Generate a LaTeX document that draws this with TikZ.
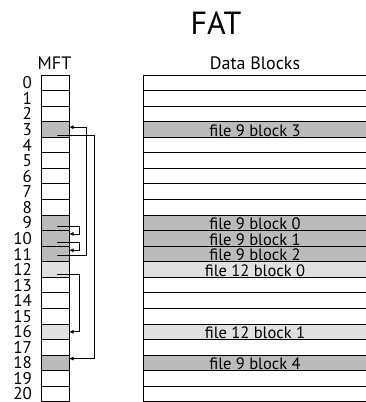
\documentclass[tikz,border=0pt]{standalone}
\usepackage{fontspec}
\setmainfont{PT Sans}
\usetikzlibrary{arrows.meta}
\definecolor{filenine}{RGB}{187,187,187}
\definecolor{filetwelve}{RGB}{224,224,224}

\begin{document}
\begin{tikzpicture}[x=1pt, y=1pt,
cell/.style={draw, line width=0.9pt, minimum width=28pt, minimum height=15.56pt, inner sep=0pt, outer sep=0pt},
blk/.style={draw, line width=0.9pt, minimum width=224pt, minimum height=15.56pt, inner sep=0pt, outer sep=0pt, text height=14pt, text depth=0pt, font=\fontsize{16.5}{16.5}\selectfont},
num/.style={anchor=east, inner sep=0pt, font=\fontsize{17}{17}\selectfont},
head/.style={inner sep=0pt, font=\fontsize{18}{18}\selectfont},
ptr/.style={-{Latex[length=4.5pt,width=4pt]}, line width=0.8pt}
]
\useasboundingbox (0,0) rectangle (366,-402);
\node[inner sep=0pt, font=\fontsize{32}{32}\selectfont] (title) at (216,-23.5) {FAT};
\node[head] (mft) at (54.5,-63) {MFT};
\node[head] (data) at (255,-63.3) {Data Blocks};

% table rows: number / fill / contents
\foreach \i/\c/\t in {0/white/{}, 1/white/{}, 2/white/{}, 3/filenine/{file 9 block 3},
  4/white/{}, 5/white/{}, 6/white/{}, 7/white/{}, 8/white/{},
  9/filenine/{file 9 block 0}, 10/filenine/{file 9 block 1}, 11/filenine/{file 9 block 2},
  12/filetwelve/{file 12 block 0}, 13/white/{}, 14/white/{}, 15/white/{},
  16/filetwelve/{file 12 block 1}, 17/white/{}, 18/filenine/{file 9 block 4},
  19/white/{}, 20/white/{}}{
  \node[cell, fill=\c] (m\i) at (55,{-82.8-15.56*\i}) {};
  \node[num] (n\i) at (32,{-82.8-15.56*\i}) {\i};
  \node[blk, fill=\c] (d\i) at (255,{-82.8-15.56*\i}) {\t};
}

% FAT chains
\draw[ptr] ([xshift=2pt,yshift=-6pt]m3.center) -| ([xshift=25pt,yshift=4.3pt]m18.east) -- ([yshift=4.3pt]m18.east);
\draw[ptr] ([xshift=2pt,yshift=-1.6pt]m11.center) -| ([xshift=17pt,yshift=2.3pt]m3.east) -- ([yshift=2.3pt]m3.east);
\draw[ptr] ([xshift=2pt,yshift=-3.5pt]m9.center) -| ([xshift=10pt,yshift=4.5pt]m10.east) -- ([yshift=4.5pt]m10.east);
\draw[ptr] ([xshift=2pt,yshift=-3.9pt]m10.center) -| ([xshift=10pt,yshift=3.7pt]m11.east) -- ([yshift=3.7pt]m11.east);
\draw[ptr] ([xshift=2pt,yshift=-4.7pt]m12.center) -| ([xshift=10pt]m16.east) -- (m16.east);
\end{tikzpicture}
\end{document}
